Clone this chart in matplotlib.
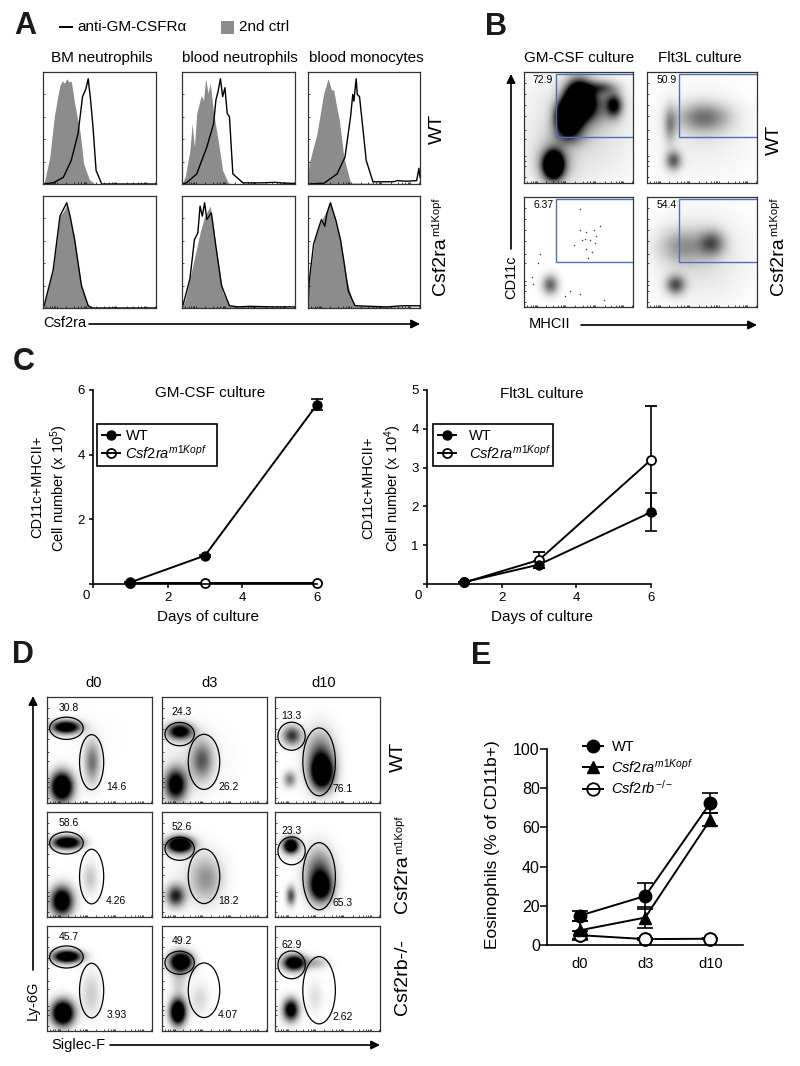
import matplotlib
matplotlib.use('Agg')
import matplotlib.pyplot as plt
from matplotlib.lines import Line2D
from matplotlib.patches import Ellipse, Rectangle
import numpy as np

plt.rcParams['font.family'] = ['Liberation Sans', 'DejaVu Sans']
plt.rcParams['mathtext.fontset'] = 'custom'
plt.rcParams['mathtext.rm'] = 'Liberation Sans'
plt.rcParams['mathtext.it'] = 'Liberation Sans:italic'
plt.rcParams['mathtext.bf'] = 'Liberation Sans:bold'

# panel A histograms, x and y in percent of the panel
bm_wt_ctrl_x = [0, 1.5, 6, 10, 13, 15, 17, 19, 21, 23, 25, 28, 33, 36, 41, 46, 100]
bm_wt_ctrl_y = [0, 3, 24, 60, 78, 88, 92, 90, 94, 91, 92, 72, 45, 18, 4, 0, 0]
bm_wt_ab_x = [0, 9, 18, 25, 31, 35, 38, 40, 42, 44, 47, 52, 100]
bm_wt_ab_y = [0, 1, 6, 21, 45, 78, 85, 94, 76, 54, 12, 0, 0]
bn_wt_ctrl_x = [0, 3, 7, 9, 11, 13, 17, 19, 21, 23, 25, 28, 32, 36, 41, 45, 100]
bn_wt_ctrl_y = [0, 7, 30, 54, 33, 63, 79, 75, 94, 81, 90, 63, 39, 12, 1, 0, 0]
bn_wt_ab_x = [0, 4, 13, 22, 28, 30, 32, 34, 36, 38, 40, 42, 45, 54, 70, 82, 90, 100]
bn_wt_ab_y = [0, 1, 9, 33, 54, 75, 83, 94, 78, 86, 63, 60, 9, 1, 1, 1.5, 0.8, 0.5]
mo_wt_ctrl_x = [0, 1, 8, 14, 18, 21, 23, 25, 28, 32, 38, 100]
mo_wt_ctrl_y = [5, 18, 45, 81, 94, 84, 84, 72, 57, 24, 1, 0]
mo_wt_ab_x = [0, 14, 26, 33, 38, 40, 41, 43, 44, 46, 52, 58, 76, 80, 88, 97, 99, 100]
mo_wt_ab_y = [0, 0.5, 9, 24, 60, 80, 74, 94, 80, 78, 21, 2, 2, 3, 2.5, 3, 14, 6]

bm_ko_ctrl_x = [0, 1, 9, 15, 18, 21, 24, 28, 34, 40, 44, 100]
bm_ko_ctrl_y = [0, 2, 34, 82, 86, 92, 80, 61, 20, 2, 0, 0]
bm_ko_ab_x = [0, 1, 9, 15, 18, 21, 24, 28, 34, 40, 44, 100]
bm_ko_ab_y = [0, 2, 34, 82, 88, 94, 82, 61, 20, 2, 0, 0]
bn_ko_ctrl_x = [0, 3, 10, 16, 20, 25, 30, 36, 42, 100]
bn_ko_ctrl_y = [0, 8, 40, 67, 82, 91, 55, 14, 2, 0.5]
bn_ko_ab_x = [0, 1, 7, 11, 14, 16, 18, 20, 22, 26, 30, 35, 42, 50, 60, 80, 100]
bn_ko_ab_y = [0, 3, 26, 61, 67, 91, 82, 94, 79, 85, 55, 20, 2, 1, 1.5, 1, 1]
mo_ko_ctrl_x = [0, 1, 6, 11, 20, 29, 35, 41, 100]
mo_ko_ctrl_y = [0, 23, 61, 76, 94, 61, 23, 2, 0.5]
mo_ko_ab_x = [0, 1, 5, 9, 12, 15, 17, 20, 25, 29, 32, 36, 42, 70, 85, 100]
mo_ko_ab_y = [0, 23, 57, 70, 79, 73, 85, 94, 78, 61, 42, 15, 2, 1, 2, 2]

hist_titles = ['BM neutrophils', 'blood neutrophils', 'blood monocytes']

# panel B and D: dot clouds read as (x, y, spread x, spread y, density)
gm_wt_cells = [(27, 16, 6, 8, 2), (27, 18, 11, 13, 0.4), (50, 74, 8, 11, 2.5), (40, 60, 7, 9, 2.2),
               (83, 70, 5, 7, 0.9), (70, 86, 10, 4, 0.5), (65, 70, 12, 12, 0.5), (42, 45, 10, 8, 0.5),
               (50, 50, 35, 35, 0.15)]
flt_wt_cells = [(24, 20, 5, 6, 0.6), (21, 53, 4, 11, 0.4), (52, 59, 16, 9, 0.5), (50, 45, 30, 28, 0.08)]
gm_ko_cells = [(24, 20, 5, 6, 0.6)]
# single dots that can be told apart in the sparse GM-CSF knockout plot
gm_ko_dots_x = [51, 57, 64, 66, 56, 60.5, 53, 65, 57, 62, 59, 51, 15, 7, 8, 42, 51, 73, 46, 70, 13, 38]
gm_ko_dots_y = [70, 68, 70, 65, 62, 61, 61, 58, 53, 50, 45, 89, 48, 27, 21, 15, 12, 6, 56, 74, 40, 10]
flt_ko_cells = [(26, 20, 6, 6, 0.65), (59, 58, 8, 8, 0.55), (33, 55, 15, 11, 0.35), (50, 45, 28, 28, 0.12)]
b_percent = [['72.9', '50.9'], ['6.37', '54.4']]

d_cells = [
    [[(14, 15, 7, 9, 1.8), (18, 71, 9, 4, 1.5), (43, 38, 5, 13, 0.55), (40, 60, 20, 15, 0.02)],
     [(13, 17, 7, 10, 1.3), (17, 67, 8, 5, 1.3), (38, 40, 7, 12, 0.6), (30, 40, 20, 20, 0.08)],
     [(14, 22, 4, 5, 0.5), (16, 63, 6, 6, 0.8), (45, 28, 7, 10, 1.5), (43, 42, 9, 16, 0.7)]],
    [[(14, 15, 7, 9, 1.5), (19, 71, 9, 4, 1.6), (41, 37, 5, 10, 0.22)],
     [(13, 20, 6, 7, 0.9), (17, 69, 8, 5, 1.8), (42, 36, 10, 14, 0.4), (30, 45, 18, 18, 0.05)],
     [(15, 20, 3, 6, 0.7), (15, 68, 5, 5, 1.6), (44, 28, 7, 9, 1.2), (42, 42, 9, 15, 0.7)]],
    [[(15, 17, 7, 8, 1.8), (19, 71, 9, 4, 1.6), (42, 35, 6, 14, 0.2)],
     [(15, 18, 5, 8, 1.8), (18, 66, 7, 6, 1.8), (16, 48, 5, 12, 0.2), (36, 30, 6, 10, 0.15)],
     [(15, 20, 5, 7, 1.3), (18, 65, 7, 5, 1.5), (38, 65, 8, 4, 0.3), (38, 32, 5, 10, 0.12)]],
]
d_upper_pct = [['30.8', '24.3', '13.3'], ['58.6', '52.6', '23.3'], ['45.7', '49.2', '62.9']]
d_lower_pct = [['14.6', '26.2', '76.1'], ['4.26', '18.2', '65.3'], ['3.93', '4.07', '2.62']]
d_titles = ['d0', 'd3', 'd10']

# panel C
days = [1, 3, 6]
gm_wt = [0.05, 0.88, 5.55]
gm_wt_err = [0.02, 0.03, 0.17]
gm_ko = [0.03, 0.03, 0.03]
gm_ko_err = [0.01, 0.01, 0.01]
flt_wt = [0.05, 0.5, 1.85]
flt_wt_err = [0.01, 0.1, 0.49]
flt_ko = [0.04, 0.62, 3.2]
flt_ko_err = [0.01, 0.2, 1.4]

# panel E
e_days = ['d0', 'd3', 'd10']
eos_wt = [15, 25, 72.5]
eos_wt_err = [2.5, 6.5, 5]
eos_ko = [7.5, 14, 64]
eos_ko_err = [5, 5.5, 3.5]
eos_rb = [5, 3, 3.2]
eos_rb_err = [2, 0.5, 0.3]

W, H = 800, 1066
fig = plt.figure(figsize=(8, 10.66), dpi=100)


def ax_px(x0, y0, x1, y1):
    return fig.add_axes([x0 / W, 1 - y1 / H, (x1 - x0) / W, (y1 - y0) / H])


log_ticks = [3, 6, 8, 10, 11, 12, 20, 27, 31, 34, 36, 37, 38, 47, 54, 58, 61, 63, 64, 65, 74, 80, 84, 87, 89, 90, 91, 99]


def flow_frame(ax):
    ax.set_xlim(0, 100)
    ax.set_ylim(0, 100)
    ax.set_xticks(log_ticks)
    ax.set_yticks([5, 15, 20, 24, 40, 48, 60, 70, 80, 90])
    ax.tick_params(length=1.5, width=0.5, direction='in', labelbottom=False, labelleft=False)
    for s in ax.spines.values():
        s.set_linewidth(0.9)
        s.set_color('#333333')


def density(ax, cells, n=200):
    gx, gy = np.meshgrid(np.linspace(0, 100, n), np.linspace(0, 100, n))
    d = np.zeros_like(gx)
    for cx, cy, sx, sy, k in cells:
        d += k * np.exp(-0.5 * ((gx - cx) / sx) ** 2 - 0.5 * ((gy - cy) / sy) ** 2)
    ax.imshow(d, origin='lower', extent=[0, 100, 0, 100], cmap='gray_r', vmin=0, vmax=1,
              interpolation='bilinear', aspect='auto')


# panel A
a_cols = [(43, 156), (182, 295), (308, 420)]
a_rows = [(72, 184), (196, 308)]
a_curves = [
    [(bm_wt_ctrl_x, bm_wt_ctrl_y, bm_wt_ab_x, bm_wt_ab_y),
     (bn_wt_ctrl_x, bn_wt_ctrl_y, bn_wt_ab_x, bn_wt_ab_y),
     (mo_wt_ctrl_x, mo_wt_ctrl_y, mo_wt_ab_x, mo_wt_ab_y)],
    [(bm_ko_ctrl_x, bm_ko_ctrl_y, bm_ko_ab_x, bm_ko_ab_y),
     (bn_ko_ctrl_x, bn_ko_ctrl_y, bn_ko_ab_x, bn_ko_ab_y),
     (mo_ko_ctrl_x, mo_ko_ctrl_y, mo_ko_ab_x, mo_ko_ab_y)],
]
for r in range(2):
    for c in range(3):
        ax = ax_px(a_cols[c][0], a_rows[r][0], a_cols[c][1], a_rows[r][1])
        cx, cy, lx, ly = a_curves[r][c]
        ax.fill_between(cx, cy, color='#8c8c8c', lw=0)
        ax.plot(lx, ly, color='black', lw=1.0)
        flow_frame(ax)
        ax.set_yticks([0, 20, 40, 60, 80, 100])

# panel B
b_cols = [(524, 633), (647, 757)]
b_rows = [(72, 183), (197, 307)]
b_cells = [[gm_wt_cells, flt_wt_cells], [gm_ko_cells, flt_ko_cells]]
for r in range(2):
    for c in range(2):
        ax = ax_px(b_cols[c][0], b_rows[r][0], b_cols[c][1], b_rows[r][1])
        density(ax, b_cells[r][c])
        if r == 1 and c == 0:
            ax.scatter(gm_ko_dots_x, gm_ko_dots_y, s=1.2, color='#444444', lw=0)
        ax.add_patch(Rectangle((29.5, 41), 72, 57, fill=False, ec='#4a72b8', lw=1.0))
        ax.text(17.5, 93, b_percent[r][c], fontsize=7.5, ha='center', va='center')
        flow_frame(ax)

# panel D
d_cols = [(47, 152), (162, 267), (275, 380)]
d_rows = [(697, 803), (812, 917), (926, 1031)]
d_upper_gate = [(18.5, 70.5, 32, 21), (16.8, 65, 28, 22), (15.8, 63, 26, 26.5)]
d_lower_gate = [(42.5, 38.5, 23, 52), (40, 38.8, 30, 52), (42, 38.8, 31, 64)]
d_upper_txt = [(21, 90), (19, 85.5), (15.5, 82)]
d_lower_txt = [(66, 15), (63, 15), (64.5, 13)]
for r in range(3):
    for c in range(3):
        ax = ax_px(d_cols[c][0], d_rows[r][0], d_cols[c][1], d_rows[r][1])
        density(ax, d_cells[r][c])
        ux, uy, uw, uh = d_upper_gate[c]
        lx, ly, lw_, lh = d_lower_gate[c]
        ax.add_patch(Ellipse((ux, uy), uw, uh, fill=False, ec='black', lw=0.9))
        ax.add_patch(Ellipse((lx, ly), lw_, lh, fill=False, ec='black', lw=0.9))
        ax.text(d_upper_txt[c][0], d_upper_txt[c][1], d_upper_pct[r][c], fontsize=7.5, ha='center', va='center')
        ax.text(d_lower_txt[c][0], d_lower_txt[c][1], d_lower_pct[r][c], fontsize=7.5, ha='center', va='center')
        flow_frame(ax)

ko_label = r'$\mathit{Csf2ra}^{\mathit{m1Kopf}}$'


def clean_spines(ax):
    ax.patch.set_alpha(0)
    ax.spines['top'].set_visible(False)
    ax.spines['right'].set_visible(False)
    ax.spines['left'].set_linewidth(1.2)
    ax.spines['bottom'].set_linewidth(1.2)


# panel C
def culture_axes(x0, x1, ymax, wt, wt_e, ko, ko_e, ylab_ticks, leg_x, leg_pad):
    ax = ax_px(x0, 390, x1, 584)
    ax.errorbar(days, ko, yerr=ko_e, color='black', marker='o', ms=6.5, mfc='white', mew=1.3, lw=1.4,
                capsize=4, capthick=1.2, elinewidth=1.2, clip_on=False)
    ax.errorbar(days, wt, yerr=wt_e, color='black', marker='o', ms=6.5, lw=1.4, capsize=4,
                capthick=1.2, elinewidth=1.2, clip_on=False)
    ax.set_xlim(0, 6)
    ax.set_ylim(0, ymax)
    ax.set_xticks([0, 2, 4, 6])
    ax.set_xticklabels(['', '2', '4', '6'])
    ax.set_yticks(ylab_ticks)
    ax.set_yticklabels([''] + [str(v) for v in ylab_ticks[1:]])
    ax.tick_params(labelsize=9.5, width=1.1, length=3, pad=3)
    clean_spines(ax)
    handles = [Line2D([], [], color='black', marker='o', ms=6.5, lw=1.4),
               Line2D([], [], color='black', marker='o', ms=6.5, mfc='none', mew=1.3, lw=1.4)]
    leg = ax.legend(handles, ['WT', ko_label], loc='upper left',
                    bbox_to_anchor=(leg_x / W, 1 - 465 / H, 120 / W, 41 / H), mode='expand',
                    bbox_transform=fig.transFigure, borderaxespad=0, fontsize=10.5, fancybox=False, framealpha=1,
                    edgecolor='black', handlelength=1.2, handletextpad=leg_pad, labelspacing=0.02, borderpad=0.35)
    leg.get_frame().set_linewidth(1.2)
    return ax


culture_axes(93, 317, 6, gm_wt, gm_wt_err, gm_ko, gm_ko_err, [0, 2, 4, 6], 97, 0.4)
culture_axes(427, 651, 5, flt_wt, flt_wt_err, flt_ko, flt_ko_err, [0, 1, 2, 3, 4, 5], 433, 0.9)

# panel E
ax = ax_px(546.7, 749, 743, 945)
xs = list(range(len(e_days)))
ax.errorbar(xs, eos_rb, yerr=eos_rb_err, color='black', marker='o', ms=9, mfc='white', mew=1.3, lw=1.4, capsize=5.5,
            capthick=1.2, elinewidth=1.2, clip_on=False)
ax.errorbar(xs, eos_wt, yerr=eos_wt_err, color='black', marker='o', ms=9, lw=1.4, capsize=5.5,
            capthick=1.2, elinewidth=1.2, clip_on=False)
ax.errorbar(xs, eos_ko, yerr=eos_ko_err, color='black', marker='^', ms=9, lw=1.4, capsize=5.5,
            capthick=1.2, elinewidth=1.2, clip_on=False)
ax.plot(xs, eos_rb, ls='none', color='black', marker='o', ms=9, mfc='none', mew=1.3, clip_on=False)
ax.set_xlim(-0.51, 2.5)
ax.set_ylim(0, 100)
ax.set_xticks(xs)
ax.set_xticklabels(e_days)
ax.set_yticks([0, 20, 40, 60, 80, 100])
ax.tick_params(axis='y', labelsize=11.5, width=1.1, length=5, pad=0)
ax.tick_params(axis='x', labelsize=10.5, bottom=False, pad=5)
clean_spines(ax)
e_handles = [Line2D([], [], color='black', marker='o', ms=9, lw=1.4),
             Line2D([], [], color='black', marker='^', ms=9, lw=1.4),
             Line2D([], [], color='black', marker='o', ms=9, mfc='none', mew=1.3, lw=1.4)]
ax.legend(e_handles, ['WT', ko_label, r'$\mathit{Csf2rb}^{-/-}$'], loc='upper left',
          bbox_to_anchor=(583 / W, 1 - 740 / H), bbox_transform=fig.transFigure,
          borderaxespad=0, fontsize=10.5, frameon=False, handlelength=1.4, handletextpad=0.55,
          labelspacing=0.25, borderpad=0)

# everything else sits on a full page axes in pixels
pg = fig.add_axes([0, 0, 1, 1], zorder=10)
pg.set_xlim(0, W)
pg.set_ylim(H, 0)
pg.axis('off')


def arrow(x0, y0, x1, y1):
    pg.annotate('', xy=(x1, y1), xytext=(x0, y0),
                arrowprops=dict(arrowstyle='-|>', lw=1.2, color='black', mutation_scale=13, shrinkA=0, shrinkB=0))


def txt(x, y, s, size=11, rot=0, **kw):
    pg.text(x, y, s, fontsize=size, rotation=rot, ha=kw.pop('ha', 'center'), va=kw.pop('va', 'center'), **kw)


def strain_label(x, y_bottom):
    # Csf2ra with a small raised m1Kopf, both running upwards
    txt(x, y_bottom, 'Csf2ra', size=14, rot=90, va='bottom')
    txt(x - 4, y_bottom - 59, 'm1Kopf', size=8, rot=90, va='bottom')


for letter, x, y in [('A', 25, 26), ('B', 496, 27), ('C', 24, 362), ('D', 23, 655), ('E', 481, 656)]:
    txt(x, y, letter, size=22, fontweight='bold', color='#1a1a1a')

pg.plot([60, 72], [27, 27], color='black', lw=1.4)
txt(77, 27, 'anti-GM-CSFR\u03b1', size=11, ha='left')
pg.add_patch(Rectangle((221, 21), 13, 13, color='#8c8c8c', lw=0))
txt(239, 27, '2nd ctrl', size=11, ha='left')
for t, x in zip(hist_titles, [102, 240, 366]):
    txt(x, 58, t, size=11)
txt(437, 129, 'WT', size=14, rot=90)
strain_label(440, 295)
txt(43, 323, 'Csf2ra', size=10.5, ha='left')
arrow(89, 324, 420, 324)

txt(579, 58, 'GM-CSF culture', size=11)
txt(700, 58, 'Flt3L culture', size=11)
arrow(511, 249, 511, 74)
txt(511, 277, 'CD11c', size=10.5, rot=90)
txt(550, 324, 'MHCII', size=10.5)
arrow(581, 325, 757, 325)
txt(774, 140, 'WT', size=14, rot=90)
strain_label(778, 295)

txt(210, 393, 'GM-CSF culture', size=11)
txt(208, 617, 'Days of culture', size=11)
txt(86, 596, '0', size=9.5)
txt(37, 487, 'CD11c+MHCII+', size=10.5, rot=90)
txt(59, 488, 'Cell number (x 10$^{5}$)', size=10.5, rot=90)
txt(542, 394, 'Flt3L culture', size=11)
txt(542, 617, 'Days of culture', size=11)
txt(418, 596, '0', size=9.5)
txt(368, 488, 'CD11c+MHCII+', size=10.5, rot=90)
txt(393, 488, 'Cell number (x 10$^{4}$)', size=10.5, rot=90)

for t, x in zip(d_titles, [94, 210, 324]):
    txt(x, 683, t, size=10.5)
arrow(33, 970, 33, 696)
txt(33, 1000, 'Ly-6G', size=10.5, rot=90)
txt(78, 1045, 'Siglec-F', size=10.5)
arrow(110, 1045, 380, 1045)
txt(398, 757, 'WT', size=14, rot=90)
strain_label(403, 913)
txt(402, 977, 'Csf2rb-/-', size=14, rot=90)

txt(492, 845, 'Eosinophils (% of CD11b+)', size=12.5, rot=90)

fig.savefig('out.png', dpi=100)
